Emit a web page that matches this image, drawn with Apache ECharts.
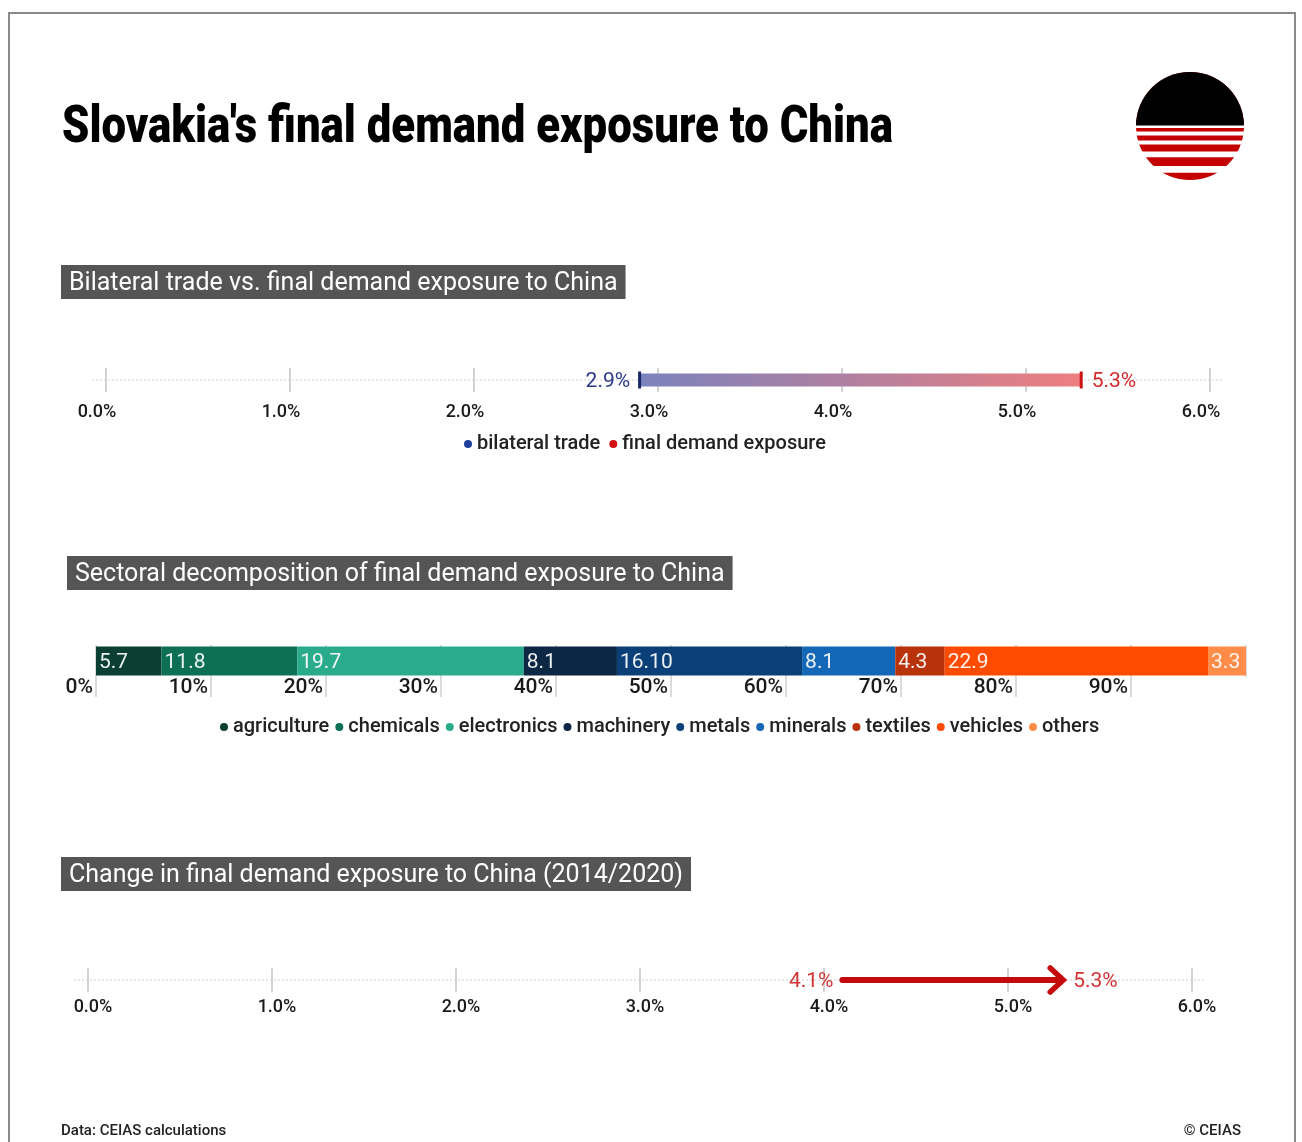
<!DOCTYPE html>
<html>
<head>
<meta charset="utf-8">
<script src="https://cdn.jsdelivr.net/npm/echarts@6/dist/echarts.min.js"></script>
<style>
html,body{margin:0;padding:0;background:#fff;}
#chart{width:1302px;height:1142px;}
</style>
</head>
<body>
<div id="chart"></div>
<script>
// ---------- data ----------
const mainTitle = "Slovakia's final demand exposure to China";
const header1 = "Bilateral trade vs. final demand exposure to China";
const header2 = "Sectoral decomposition of final demand exposure to China";
const header3 = "Change in final demand exposure to China (2014/2020)";

const tradeNames = ['bilateral trade', 'final demand exposure'];
const bilateralTrade = 2.9;
const finalDemandExposure = 5.3;

const sectors = ['agriculture', 'chemicals', 'electronics', 'machinery', 'metals', 'minerals', 'textiles', 'vehicles', 'others'];
const sectorShares = [5.7, 11.8, 19.7, 8.1, 16.1, 8.1, 4.3, 22.9, 3.3];
const sectorLabels = ['5.7', '11.8', '19.7', '8.1', '16.10', '8.1', '4.3', '22.9', '3.3'];
const sectorColors = ['#0b3f33', '#0c6f56', '#2aab8c', '#0b2744', '#0b3f78', '#1466b6', '#b9330a', '#ff4b00', '#ff8c48'];

const exposure2014 = 4.1;
const exposure2020 = 5.3;

const sourceNote = 'Data: CEIAS calculations';
const copyright = '© CEIAS';

// ---------- helpers ----------
const F = 'Roboto, "Noto Sans", sans-serif';
const measureCtx = document.createElement('canvas').getContext('2d');
function textWidth(text, font) {
  measureCtx.font = font;
  return measureCtx.measureText(text).width;
}
const titleFont = '900 52px ' + F;
const titleScaleX = 831 / textWidth(mainTitle, titleFont);

const legendFont = '500 20px ' + F;
function legendLeft(names, centerX, iconW, gap) {
  let w = 0;
  names.forEach((n, i) => { w += iconW + 5 + textWidth(n, legendFont) + (i ? gap : 0); });
  return Math.round(centerX - w / 2);
}

const chart = echarts.init(document.getElementById('chart'), null, {renderer: 'canvas'});

function headerTitle(text, left, top) {
  return {
    text: text, left: left, top: top,
    backgroundColor: '#555555',
    padding: [6, 8, 2, 8],
    textStyle: {color: '#ffffff', fontSize: 25, fontWeight: 'normal', fontFamily: F, lineHeight: 26}
  };
}

const stripes = [[126.5, 129], [132.4, 136.6], [141.4, 145.5], [152.4, 158.3], [166.9, 173.8]];

const option = {
  backgroundColor: '#ffffff',
  animation: false,
  title: [
    headerTitle(header1, 61, 265),
    headerTitle(header2, 67, 556),
    headerTitle(header3, 61, 857),
    {text: sourceNote, left: 61, top: 1124, padding: 0,
     textStyle: {fontFamily: F, fontWeight: 500, fontSize: 15, color: '#222'}},
    {text: copyright, right: 61, top: 1124, padding: 0,
     textStyle: {fontFamily: F, fontWeight: 500, fontSize: 15, color: '#222'}}
  ],
  legend: [
    {
      left: legendLeft(tradeNames, 640, 8, 9), top: 429, itemWidth: 8, itemHeight: 8, itemGap: 9, icon: 'circle',
      textStyle: {fontFamily: F, fontSize: 20, fontWeight: 500, color: '#222'},
      data: [
        {name: tradeNames[0], itemStyle: {color: '#1f3f9a'}},
        {name: tradeNames[1], itemStyle: {color: '#d01010'}}
      ],
      selectedMode: false
    },
    {
      left: legendLeft(sectors, 655, 8, 6), top: 712, itemWidth: 8, itemHeight: 8, itemGap: 6, icon: 'circle',
      textStyle: {fontFamily: F, fontSize: 20, fontWeight: 500, color: '#222'},
      data: sectors,
      selectedMode: false
    }
  ],
  grid: [
    {left: 106, right: 92, top: 368, height: 24},
    {left: 96, right: 56, top: 645, height: 32},
    {left: 88, right: 110, top: 968, height: 24}
  ],
  xAxis: [
    {gridIndex: 0, type: 'value', min: 0, max: 6, interval: 1,
     axisLine: {show: false}, axisTick: {show: false},
     splitLine: {show: true, lineStyle: {color: '#d2d2d2', width: 2}},
     axisLabel: {formatter: v => v.toFixed(1) + '%', margin: 11, padding: [0, 18, 0, 0],
                 fontFamily: F, fontSize: 18, fontWeight: 500, color: '#1a1a1a'}},
    {gridIndex: 1, type: 'value', min: 0, max: 100, interval: 10,
     axisLine: {show: false},
     axisTick: {show: true, length: 20, inside: false, lineStyle: {color: '#cfcfcf', width: 1.5}},
     splitLine: {show: true, lineStyle: {color: '#cfcfcf', width: 1.5}},
     axisLabel: {formatter: v => v + '%', align: 'right', margin: 0, padding: [0, 3, 0, 0],
                 showMaxLabel: false,
                 fontFamily: F, fontSize: 21, fontWeight: 500, color: '#1a1a1a'}},
    {gridIndex: 2, type: 'value', min: 0, max: 6, interval: 1,
     axisLine: {show: false}, axisTick: {show: false},
     splitLine: {show: true, lineStyle: {color: '#d2d2d2', width: 2}},
     axisLabel: {formatter: v => v.toFixed(1) + '%', margin: 6, padding: [0, 0, 0, 10],
                 fontFamily: F, fontSize: 18, fontWeight: 500, color: '#1a1a1a'}}
  ],
  yAxis: [
    {gridIndex: 0, type: 'value', min: -1, max: 1, show: false},
    {gridIndex: 1, type: 'category', data: [''], show: false},
    {gridIndex: 2, type: 'value', min: -1, max: 1, show: false}
  ],
  graphic: [
    {type: 'rect', shape: {x: 9, y: 13, width: 1286, height: 1150},
     style: {fill: 'none', stroke: '#8a8a8a', lineWidth: 2}, silent: true, z: 100},
    {type: 'text', x: 62, y: 155, scaleX: titleScaleX,
     style: {text: mainTitle, font: titleFont, fill: '#000', verticalAlign: 'bottom'}},
    {type: 'line', shape: {x1: 92, y1: 380, x2: 1222, y2: 380},
     style: {stroke: '#d0d0d0', lineWidth: 1, lineDash: [2, 2]}, z: 0},
    {type: 'line', shape: {x1: 74, y1: 980, x2: 1206, y2: 980},
     style: {stroke: '#d0d0d0', lineWidth: 1, lineDash: [2, 2]}, z: 0},
    {type: 'group', children: [
      {type: 'circle', shape: {cx: 1190, cy: 126, r: 54}, style: {fill: '#c40000'}},
      {type: 'sector', shape: {cx: 1190, cy: 126, r: 54, r0: 0, startAngle: Math.PI, endAngle: Math.PI * 2},
       style: {fill: '#000000'}, z: 1}
    ].concat(stripes.map(s => ({
      type: 'rect', shape: {x: 1130, y: s[0] - 1, width: 120, height: s[1] - s[0]},
      style: {fill: '#ffffff'}, z: 2
    })))}
  ],
  series: [
    {
      type: 'custom', name: 'range', xAxisIndex: 0, yAxisIndex: 0,
      data: [[bilateralTrade, finalDemandExposure, 0]],
      encode: {x: [0, 1], y: 2},
      z: 2,
      renderItem: function (params, api) {
        const s = api.coord([api.value(0), api.value(2)]);
        const e = api.coord([api.value(1), api.value(2)]);
        const h = 13;
        return {
          type: 'rect',
          shape: {x: s[0], y: s[1] - h / 2, width: e[0] - s[0], height: h},
          style: {fill: new echarts.graphic.LinearGradient(0, 0, 1, 0, [
            {offset: 0, color: '#7a82bd'}, {offset: 1, color: '#ee7e7f'}])}
        };
      }
    },
    {
      type: 'scatter', name: tradeNames[0], xAxisIndex: 0, yAxisIndex: 0,
      data: [[bilateralTrade, 0]], symbol: 'rect', symbolSize: [3, 17], z: 3,
      itemStyle: {color: '#1a2766', opacity: 1},
      label: {show: true, position: 'left', distance: 8, formatter: p => p.value[0].toFixed(1) + '%',
              offset: [0, 2], opacity: 1,
              fontFamily: F, fontSize: 21, color: '#2c3987'}
    },
    {
      type: 'scatter', name: tradeNames[1], xAxisIndex: 0, yAxisIndex: 0,
      data: [[finalDemandExposure, 0]], symbol: 'rect', symbolSize: [3, 17], z: 3,
      itemStyle: {color: '#cc1212', opacity: 1},
      label: {show: true, position: 'right', distance: 9, formatter: p => p.value[0].toFixed(1) + '%',
              offset: [0, 2], opacity: 1,
              fontFamily: F, fontSize: 21, color: '#d42a2a'}
    }
  ].concat(sectors.map((name, i) => ({
      type: 'bar', name: name, stack: 'total', xAxisIndex: 1, yAxisIndex: 1,
      data: [sectorShares[i]], barWidth: 29, z: 3,
      itemStyle: {color: sectorColors[i]},
      label: {show: true, position: 'insideLeft', distance: 3, formatter: () => sectorLabels[i],
              offset: [0, 2],
              fontFamily: F, fontSize: 21, color: 'rgba(255,255,255,0.92)'}
  }))).concat([
    {
      type: 'custom', name: 'change', xAxisIndex: 2, yAxisIndex: 2,
      data: [[exposure2014, exposure2020, 0]],
      encode: {x: [0, 1], y: 2},
      z: 3,
      renderItem: function (params, api) {
        const s = api.coord([api.value(0), api.value(2)]);
        const e = api.coord([api.value(1), api.value(2)]);
        const red = '#c40a0a';
        return {
          type: 'group',
          children: [
            {type: 'line', shape: {x1: s[0], y1: s[1], x2: e[0] - 4, y2: e[1]},
             style: {stroke: red, lineWidth: 6, lineCap: 'round'}},
            {type: 'polyline', shape: {points: [[e[0] - 13, e[1] - 12], [e[0], e[1]], [e[0] - 13, e[1] + 12]]},
             style: {stroke: red, lineWidth: 5.5, fill: 'none', lineJoin: 'miter', lineCap: 'round'}},
            {type: 'text', x: s[0] - 9, y: s[1] + 2,
             style: {text: api.value(0).toFixed(1) + '%', align: 'right', verticalAlign: 'middle',
                     font: '21px ' + F, fill: '#d23434'}},
            {type: 'text', x: e[0] + 10, y: e[1] + 2,
             style: {text: api.value(1).toFixed(1) + '%', align: 'left', verticalAlign: 'middle',
                     font: '21px ' + F, fill: '#d23434'}}
          ]
        };
      }
    }
  ])
};

chart.setOption(option);
</script>
</body>
</html>
